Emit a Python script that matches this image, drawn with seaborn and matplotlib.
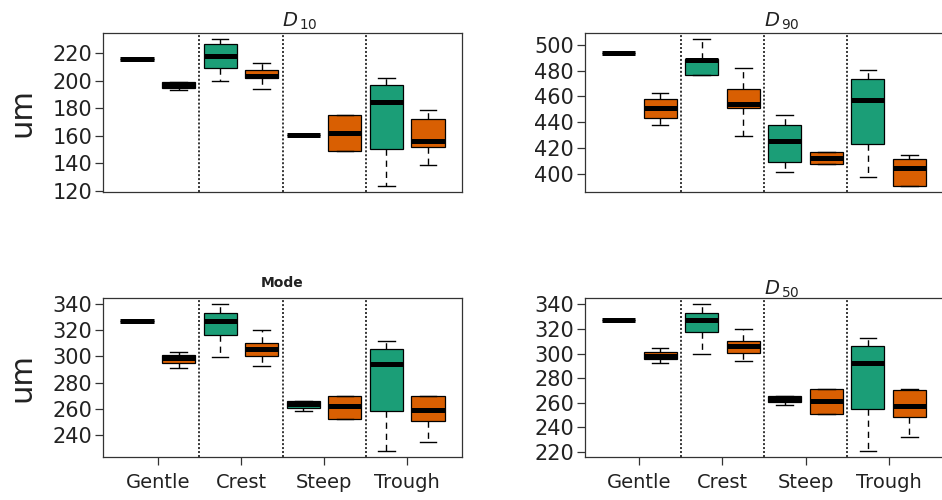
import matplotlib
matplotlib.use("Agg")
import matplotlib.pyplot as plt
import numpy as np
import pandas as pd
import seaborn as sns

# ---------------- data (five-number summaries) ----------------
categories = ["Gentle", "Crest", "Steep", "Trough"]
groups = ["Group 1", "Group 2"]
colors = ["#1b9e77", "#d95f02"]

# each entry: [min, q1, median, q3, max] for Gentle, Crest, Steep, Trough
d10_green = [[216.0] * 5,
             [199.4, 209.1, 217.6, 226.6, 230.4],
             [160.5] * 5,
             [123.2, 149.9, 184.3, 196.9, 202.0]]
d10_orange = [[193.3, 195.0, 197.0, 199.3, 199.3],
              [194.0, 202.0, 203.7, 207.4, 213.2],
              [148.9, 148.9, 162.2, 175.1, 175.1],
              [138.9, 152.0, 156.4, 172.2, 178.3]]

d90_green = [[493.8] * 5,
             [476.7, 476.7, 488.4, 489.4, 504.7],
             [401.5, 409.0, 425.6, 438.0, 445.5],
             [397.4, 423.0, 457.6, 473.4, 480.9]]
d90_orange = [[438.0, 443.4, 451.2, 458.4, 462.8],
              [429.5, 450.9, 454.0, 465.9, 481.9],
              [407.2, 407.2, 411.9, 416.8, 416.8],
              [390.4, 390.4, 404.1, 411.6, 414.7]]

mode_green = [[326.9] * 5,
              [299.3, 316.0, 326.9, 332.9, 340.0],
              [258.4, 261.0, 263.5, 266.0, 266.0],
              [228.1, 258.4, 294.5, 305.7, 312.0]]
mode_orange = [[291.3, 295.0, 298.6, 301.4, 303.4],
               [293.0, 300.4, 305.4, 310.0, 320.0],
               [252.1, 252.1, 262.0, 270.0, 270.0],
               [234.7, 251.1, 259.2, 270.0, 270.0]]

d50_green = [[327.3] * 5,
             [299.5, 317.3, 327.6, 332.7, 340.5],
             [258.0, 261.0, 263.1, 265.8, 265.8],
             [221.0, 254.8, 292.5, 306.0, 312.8]]
d50_orange = [[292.8, 295.8, 298.5, 301.7, 304.7],
              [293.9, 300.4, 306.3, 310.6, 320.3],
              [251.3, 251.3, 261.5, 271.5, 271.5],
              [232.4, 248.8, 257.2, 270.4, 271.5]]

y_ticks_d10 = [120, 140, 160, 180, 200, 220]
y_ticks_d90 = [400, 420, 440, 460, 480, 500]
y_ticks_mode = [240, 260, 280, 300, 320, 340]
y_ticks_d50 = [220, 240, 260, 280, 300, 320, 340]

y_label = "um"

# ---------------- figure ----------------
plt.rcParams["font.family"] = ["DejaVu Sans"]
plt.rcParams["mathtext.fontset"] = "dejavusans"

W, H = 942, 500
fig = plt.figure(figsize=(W / 100, H / 100), dpi=100)


def rect(x0, y0, x1, y1):
    return [x0 / W, 1 - y1 / H, (x1 - x0) / W, (y1 - y0) / H]


panels = [
    dict(green=d10_green, orange=d10_orange, ticks=y_ticks_d10,
         rect=rect(103, 33, 462, 192), title=r"$\mathit{D}_{\,\mathit{10}}$",
         title_kind="math", ty=1.038, bottom=False, ylab=True),
    dict(green=d90_green, orange=d90_orange, ticks=y_ticks_d90,
         rect=rect(584.5, 33, 943.5, 192), title=r"$\mathit{D}_{\,\mathit{90}}$",
         title_kind="math", ty=1.040, bottom=False, ylab=False),
    dict(green=mode_green, orange=mode_orange, ticks=y_ticks_mode,
         rect=rect(103, 298, 462, 456.7), title="Mode",
         title_kind="bold", ty=1.069, bottom=True, ylab=True),
    dict(green=d50_green, orange=d50_orange, ticks=y_ticks_d50,
         rect=rect(584.5, 298, 943.5, 456.7), title=r"$\mathit{D}_{\,\mathit{50}}$",
         title_kind="math", ty=1.019, bottom=True, ylab=False),
]

for p in panels:
    rows = []
    for ci, cat in enumerate(categories):
        for g, series in zip(groups, [p["green"], p["orange"]]):
            for v in series[ci]:
                rows.append({"category": cat, "group": g, "value": v})
    df = pd.DataFrame(rows)

    ax = fig.add_axes(p["rect"])
    sns.boxplot(
        data=df, x="category", y="value", hue="group",
        order=categories, hue_order=groups, palette=colors, saturation=1,
        width=1.0, gap=0.2, whis=(0, 100), linecolor="black", linewidth=0.9,
        legend=False, ax=ax,
        medianprops=dict(color="black", linewidth=3.6, solid_capstyle="butt"),
        whiskerprops=dict(color="black", linestyle=(0, (4.5, 3.5)), linewidth=1.0),
        capprops=dict(color="black", linewidth=1.0),
        boxprops=dict(edgecolor="black", linewidth=0.9),
    )

    vals = df["value"].to_numpy()
    lo, hi = vals.min(), vals.max()
    pad = 0.04 * (hi - lo)
    ax.set_ylim(lo - pad, hi + pad)
    ax.set_xlim(-0.66, 3.66)

    for xs in [0.5, 1.5, 2.5]:
        ax.axvline(xs, color="black", linestyle=(0, (1.3, 1.3)), linewidth=1.1, zorder=1)

    ax.set_yticks(p["ticks"])
    ax.set_yticklabels([str(t) for t in p["ticks"]])
    ax.set_xlabel("")
    ax.set_ylabel("")
    ax.tick_params(axis="y", left=True, direction="out", length=5.5, width=0.9,
                   color="#333333", labelsize=15, pad=2, labelcolor="#222222")
    if p["bottom"]:
        ax.set_xticks(range(len(categories)))
        ax.set_xticklabels(categories)
        ax.tick_params(axis="x", bottom=True, direction="out", length=5.5, width=0.9,
                       color="#333333", labelsize=14, pad=6, labelcolor="#222222")
    else:
        ax.set_xticks([])

    for s in ax.spines.values():
        s.set_color("#333333")
        s.set_linewidth(0.9)

    if p["title_kind"] == "math":
        ax.text(0.5, p["ty"], p["title"], transform=ax.transAxes, ha="left",
                va="baseline", fontsize=14, color="#222222")
    else:
        ax.text(0.5, p["ty"], p["title"], transform=ax.transAxes, ha="center",
                va="baseline", fontsize=10, fontweight="bold", color="#222222")

    if p["ylab"]:
        x0, y0, w, h = p["rect"]
        fig.text(22 / W, y0 + h / 2, y_label, rotation=90, ha="center", va="center",
                 fontsize=22, color="#222222")

fig.savefig("out.png", dpi=100)
